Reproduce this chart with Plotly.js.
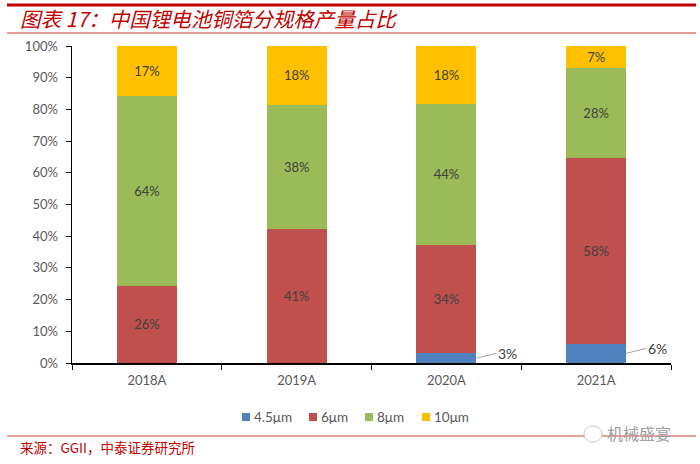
<!DOCTYPE html>
<html><head><meta charset="utf-8">
<script src="https://cdn.plot.ly/plotly-3.0.1.min.js"></script>
<style>html,body{margin:0;padding:0;background:#fff}#c{width:700px;height:464px}</style>
</head><body><div id="c"></div>
<script>
const categories = ['2018A','2019A','2020A','2021A'];
const seriesNames = ['4.5μm','6μm','8μm','10μm'];
const s45 = [0, 0, 3, 6];
const s6 = [26, 41, 34, 58];
const s8 = [64, 38, 44, 28];
const s10 = [17, 18, 18, 7];
const colors = ['#4F81BD','#C0504D','#9BBB59','#FFC000'];
const yTicks = [0,10,20,30,40,50,60,70,80,90,100];

const all = [s45, s6, s8, s10];
const totals = categories.map((_, i) => all.reduce((a, s) => a + s[i], 0));
const font = 'Lato, "Open Sans", "Noto Sans", sans-serif';

const traces = all.map((vals, k) => ({
  type: 'bar', x: categories, y: vals, name: seriesNames[k],
  marker: {color: colors[k]},
  text: vals.map(v => (k === 0 || v === 0) ? '' : v + '%'),
  textposition: 'inside', insidetextanchor: 'middle', constraintext: 'none',
  textfont: {family: font, size: 13, color: '#404040'},
  hoverinfo: 'skip', showlegend: false
}));

const px2x = p => (p - 72) / 599;
const px2y = p => (363 - p) / 317;

const annotations = [];
const shapes = [];
s45.forEach((v, i) => {
  if (v > 0) {
    annotations.push({
      x: i + 0.2, y: v / totals[i] * 100 * 0.5, xref: 'x', yref: 'y',
      text: v + '%', showarrow: true, arrowhead: 0, arrowwidth: 1, arrowcolor: '#A6A6A6',
      ax: 20, ay: -5, xanchor: 'left', font: {family: font, size: 14, color: '#404040'}
    });
  }
});
// custom legend
const legX = [242, 309, 365, 422];
seriesNames.forEach((n, k) => {
  shapes.push({type: 'rect', xref: 'paper', yref: 'paper', x0: px2x(legX[k]), x1: px2x(legX[k] + 8),
    y0: px2y(421), y1: px2y(413), fillcolor: colors[k], line: {width: 0}});
  annotations.push({xref: 'paper', yref: 'paper', x: px2x(legX[k] + 10), y: px2y(417), xanchor: 'left', yanchor: 'middle',
    text: n, showarrow: false, font: {family: font, size: 13.5, color: '#595959'}});
});
annotations.push({
  xref: 'paper', yref: 'paper', x: px2x(18), y: px2y(18), xanchor: 'left', yanchor: 'middle',
  text: '<i>图表 17：中国锂电池铜箔分规格产量占比</i>', showarrow: false,
  font: {family: '"Noto Sans CJK SC", sans-serif', size: 20.5, color: '#C00000'}
});
annotations.push({
  xref: 'paper', yref: 'paper', x: px2x(18), y: px2y(447), xanchor: 'left', yanchor: 'middle',
  text: '来源：GGII，中泰证券研究所', showarrow: false,
  font: {family: '"Noto Sans CJK SC", sans-serif', size: 13.5, color: '#C00000'}
});
annotations.push({
  xref: 'paper', yref: 'paper', x: px2x(605), y: px2y(433), xanchor: 'left', yanchor: 'middle',
  text: '机械盛宴', showarrow: false,
  font: {family: '"Noto Sans CJK SC", sans-serif', size: 16, color: '#A0A0A0'}
});

shapes.push(
  {type: 'line', xref: 'paper', yref: 'paper', x0: px2x(7), x1: px2x(696), y0: px2y(5), y1: px2y(5), line: {color: '#C00000', width: 3}},
  {type: 'line', xref: 'paper', yref: 'paper', x0: px2x(7), x1: px2x(696), y0: px2y(33), y1: px2y(33), line: {color: '#E69A9A', width: 2}},
  {type: 'line', xref: 'paper', yref: 'paper', x0: px2x(7), x1: px2x(696), y0: px2y(436), y1: px2y(436), line: {color: '#D04040', width: 1.2}},
  {type: 'circle', xref: 'paper', yref: 'paper', x0: px2x(584), x1: px2x(602), y0: px2y(442), y1: px2y(426), line: {color: '#C8C8C8', width: 1}, fillcolor: '#fff'}
);

const layout = {
  width: 700, height: 464,
  margin: {l: 72, r: 29, t: 46, b: 101},
  paper_bgcolor: '#fff', plot_bgcolor: '#fff',
  barmode: 'stack', barnorm: 'percent', bargap: 0.6,
  showlegend: false,
  xaxis: {type: 'category', showline: true, linecolor: '#000', linewidth: 1.5,
    ticks: 'outside', tickson: 'boundaries', ticklen: 5, tickcolor: '#000', ticklabelstandoff: 5,
    tickfont: {family: font, size: 13, color: '#595959'}, showgrid: false, fixedrange: true},
  yaxis: {range: [0, 100], tickvals: yTicks, ticktext: yTicks.map(v => v + '%'),
    showline: true, linecolor: '#000', linewidth: 1.5, ticks: 'outside', ticklen: 5, tickcolor: '#000', ticklabelstandoff: 5,
    tickfont: {family: font, size: 13, color: '#595959'}, showgrid: false, zeroline: false, fixedrange: true},
  annotations, shapes
};

Plotly.newPlot('c', traces, layout, {displayModeBar: false, staticPlot: true});
</script></body></html>
